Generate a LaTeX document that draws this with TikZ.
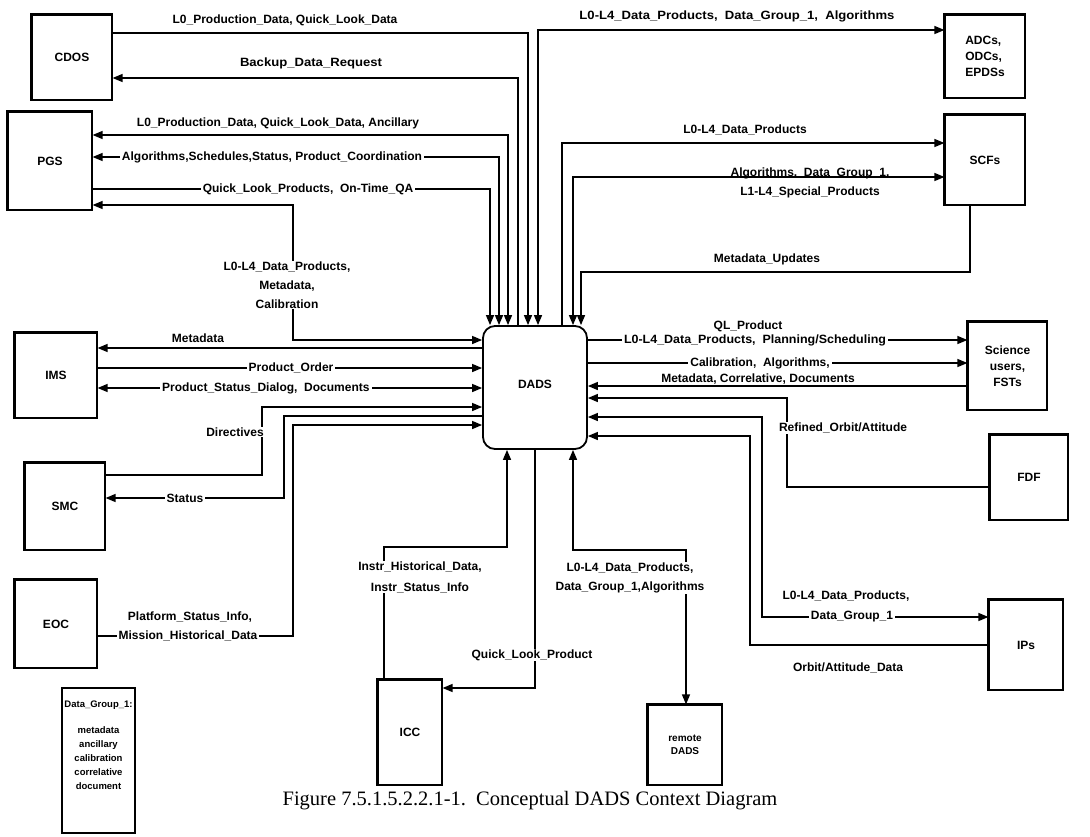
\documentclass[tikz,border=0pt]{standalone}
\usepackage{fontspec}
\newfontfamily\lblfam{Liberation Sans}
\newfontfamily\capfam{Liberation Serif}
\usetikzlibrary{arrows.meta}
\newcommand{\fitw}[2]{\resizebox{#1pt}{\height}{#2}}
\tikzset{
  conn/.style={line width=1.4pt},
  arr/.style={conn,-{Triangle[length=10pt,width=8pt]}},
  barr/.style={conn,{Triangle[length=10pt,width=8pt]}-{Triangle[length=10pt,width=8pt]}},
  lbl/.style={font=\lblfam\bfseries\fontsize{12}{14}\selectfont, inner sep=1pt},
  onl/.style={lbl, fill=white, inner xsep=2pt, inner ysep=0.5pt},
  box/.style={draw, line width=1.2pt, inner sep=0pt, align=center,
    font=\lblfam\bfseries\fontsize{12}{16}\selectfont},
  smallbox/.style={box, font=\lblfam\bfseries\fontsize{10}{13}\selectfont},
  small/.style={font=\lblfam\bfseries\fontsize{9.5}{14}\selectfont, inner sep=1pt, align=center},
  thk/.style={line width=3.5pt},
  dadsbox/.style={draw, line width=1.8pt, rounded corners=12pt,
    font=\lblfam\bfseries\fontsize{12}{14}\selectfont},
}
\begin{document}
\begin{tikzpicture}[x=1pt,y=-1pt]
\useasboundingbox (0,0) rectangle (1090,836);
\fill[white] (0,0) rectangle (1090,836);

% ---------- boxes ----------
\node[dadsbox, minimum width=104pt, minimum height=123pt] (dads) at (535,387.5) {\raisebox{7pt}{DADS}};
\node[box, minimum width=80pt, minimum height=85pt] (cdos) at (72,57.5) {CDOS};
\node[box, minimum width=80pt, minimum height=83pt, align=left] (adcs) at (985,56.5) {ADCs,\\ODCs,\\EPDSs};
\node[box, minimum width=84pt, minimum height=98pt] (pgs) at (50,161) {PGS};
\node[box, minimum width=80pt, minimum height=90pt] (scfs) at (985,160) {SCFs};
\node[box, minimum width=82pt, minimum height=85pt] (ims) at (56,375.5) {IMS};
\node[box, minimum width=79pt, minimum height=88pt] (sci) at (1007.5,366) {Science\\users,\\FSTs};
\node[box, minimum width=80pt, minimum height=87pt] (smc) at (65,506.5) {SMC};
\node[box, minimum width=78pt, minimum height=85pt] (fdf) at (1029,477.5) {FDF};
\node[box, minimum width=82pt, minimum height=88pt] (eoc) at (56,624) {EOC};
\node[box, minimum width=74pt, minimum height=90pt] (ips) at (1026,645) {IPs};
\node[box, minimum width=64pt, minimum height=105pt] (icc) at (410,732.5) {ICC};
\node[smallbox, minimum width=74pt, minimum height=80pt] (rdads) at (685,745) {remote\\DADS};
\foreach \n in {cdos,adcs,pgs,scfs,ims,sci,smc,fdf,eoc,ips,icc,rdads}
  \draw[thk] (\n.south west) -- (\n.north west) -- (\n.north east);

% ---------- top connectors ----------
\coordinate (qa) at (490,189);
\draw[arr] (pgs.east |- qa) -- (qa) -- (qa |- dads.north);
\node[onl] (lqa) at (308,189) {Quick\_Look\_Products,\ \ On-Time\_QA};

\coordinate (co) at (499,157);
\draw[barr] (pgs.east |- co) -- (co) -- (co |- dads.north);
\node[onl] (lco) at (272,157) {Algorithms,Schedules,Status, Product\_Coordination};

\coordinate (an) at (508,135);
\draw[barr] (pgs.east |- an) -- (an) -- (an |- dads.north);
\node[lbl] (lan) at (278,123) {L0\_Production\_Data, Quick\_Look\_Data, Ancillary};

\coordinate (bk) at (518,78);
\draw[arr] (bk |- dads.north) -- (bk) -- (cdos.east |- bk);
\node[lbl] (lbk) at (311,63) {\fitw{142}{Backup\_Data\_Request}};

\coordinate (l0) at (528,33);
\draw[arr] (cdos.east |- l0) -- (l0) -- (l0 |- dads.north);
\node[lbl] (ll0) at (285,20) {L0\_Production\_Data, Quick\_Look\_Data};

\coordinate (ad) at (538,30);
\draw[barr] (ad |- dads.north) -- (ad) -- (adcs.west |- ad);
\node[lbl] (lad) at (737,16) {\fitw{315}{L0-L4\_Data\_Products,\ \ Data\_Group\_1,\ \ Algorithms}};

\coordinate (s1) at (562,143);
\draw[arr] (s1 |- dads.north) -- (s1) -- (scfs.west |- s1);
\node[lbl] (ls1) at (745,130) {L0-L4\_Data\_Products};

\coordinate (s2) at (573,177);
\draw[barr] (scfs.west |- s2) -- (s2) -- (s2 |- dads.north);
\node[lbl, align=center, font=\lblfam\bfseries\fontsize{12}{19}\selectfont] (ls2) at (810,183)
  {Algorithms,\ \ Data\_Group\_1,\\L1-L4\_Special\_Products};

\coordinate (mu1) at (970,272);
\coordinate (mu2) at (581,272);
\draw[arr] (mu1 |- scfs.south) -- (mu1) -- (mu2) -- (mu2 |- dads.north);
\node[lbl] (lmu) at (767,259) {Metadata\_Updates};

% ---------- left connectors ----------
\coordinate (p1) at (293,205);
\coordinate (p2) at (293,340);
\draw[barr] (pgs.east |- p1) -- (p1) -- (p2) -- (dads.west |- p2);
\node[onl, align=center, font=\lblfam\bfseries\fontsize{12}{19}\selectfont] (lp) at (287,285)
  {L0-L4\_Data\_Products,\\Metadata,\\Calibration};

\coordinate (m1) at (0,348);
\draw[arr] (dads.west |- m1) -- (ims.east |- m1);
\node[lbl] (lm1) at (198,338) {Metadata};

\coordinate (po) at (0,368);
\draw[arr] (ims.east |- po) -- (dads.west |- po);
\node[onl] (lpo) at (291,368) {Product\_Order};

\coordinate (ps) at (0,388);
\draw[barr] (dads.west |- ps) -- (ims.east |- ps);
\node[onl, anchor=west] (lps) at (160,388) {Product\_Status\_Dialog,\ \ Documents\hspace{20pt}};

\coordinate (d1) at (262,475);
\coordinate (d2) at (262,407);
\draw[arr] (smc.east |- d1) -- (d1) -- (d2) -- (dads.west |- d2);
\node[onl] (ld) at (235,432) {Directives};

\coordinate (st1) at (284,416);
\coordinate (st2) at (284,498);
\draw[arr] (dads.west |- st1) -- (st1) -- (st2) -- (smc.east |- st2);
\node[onl] (lst) at (185,498) {Status};

\coordinate (e1) at (293,636);
\coordinate (e2) at (293,425);
\draw[arr] (eoc.east |- e1) -- (e1) -- (e2) -- (dads.west |- e2);
\node[lbl] (le1) at (190,617) {Platform\_Status\_Info,};
\node[onl] (le2) at (188,636) {Mission\_Historical\_Data};

% ---------- right connectors ----------
\coordinate (r1) at (0,340);
\draw[arr] (dads.east |- r1) -- (sci.west |- r1);
\node[lbl] (lql) at (748,326) {QL\_Product};
\node[onl] (lr1) at (755,340) {\fitw{262}{L0-L4\_Data\_Products,\ \ Planning/Scheduling}};

\coordinate (r2) at (0,363);
\draw[arr] (dads.east |- r2) -- (sci.west |- r2);
\node[onl] (lr2) at (760,363) {Calibration,\ \ Algorithms,};

\coordinate (r3) at (0,386);
\draw[arr] (sci.west |- r3) -- (dads.east |- r3);
\node[lbl] (lr3) at (758,379) {Metadata, Correlative, Documents};

\coordinate (f1) at (787,487);
\coordinate (f2) at (787,398);
\draw[arr] (fdf.west |- f1) -- (f1) -- (f2) -- (dads.east |- f2);
\node[onl] (lf) at (843,428) {Refined\_Orbit/Attitude};

\coordinate (i1) at (762,417);
\coordinate (i2) at (762,617);
\draw[barr] (dads.east |- i1) -- (i1) -- (i2) -- (ips.west |- i2);
\node[lbl] (li1) at (846,596) {L0-L4\_Data\_Products,};
\node[onl] (li2) at (852,617) {Data\_Group\_1};

\coordinate (j1) at (750,645);
\coordinate (j2) at (750,436);
\draw[arr] (ips.west |- j1) -- (j1) -- (j2) -- (dads.east |- j2);
\node[lbl] (lj) at (848,668) {Orbit/Attitude\_Data};

% ---------- bottom connectors ----------
\coordinate (c1) at (384,547);
\coordinate (c2) at (507,547);
\draw[arr] (c1 |- icc.north) -- (c1) -- (c2) -- (c2 |- dads.south);
\node[onl, align=center, font=\lblfam\bfseries\fontsize{12}{21}\selectfont] (lc) at (420,577)
  {Instr\_Historical\_Data,\\Instr\_Status\_Info};

\coordinate (q1) at (535,688);
\draw[arr] (q1 |- dads.south) -- (q1) -- (icc.east |- q1);
\node[onl] (lq) at (532,655) {Quick\_Look\_Product};

\coordinate (g1) at (573,550);
\coordinate (g2) at (686,550);
\draw[barr] (g2 |- rdads.north) -- (g2) -- (g1) -- (g1 |- dads.south);
\node[onl, align=center, font=\lblfam\bfseries\fontsize{12}{19}\selectfont] (lg) at (630,578)
  {L0-L4\_Data\_Products,\\Data\_Group\_1,Algorithms};

% ---------- legend and caption ----------
\node[draw, line width=1.4pt, minimum width=73pt, minimum height=145pt] (dg) at (98.5,760.5) {};
\node[small] (dgt) at (98.5,705) {Data\_Group\_1:};
\node[small] (dgl) at (98.5,758) {metadata\\ancillary\\calibration\\correlative\\document};
\node[font=\capfam\fontsize{20.5}{24}\selectfont, inner sep=0pt] (cap) at (530,801)
  {Figure 7.5.1.5.2.2.1-1.\ \ Conceptual DADS Context Diagram};
\end{tikzpicture}
\end{document}
